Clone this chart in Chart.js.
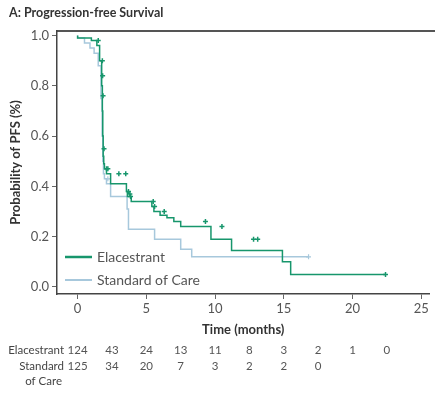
<!DOCTYPE html>
<html>
<head>
<meta charset="utf-8">
<script src="https://cdn.jsdelivr.net/npm/chart.js@4.4.1/dist/chart.umd.min.js"></script>
<style>
  html, body { margin: 0; padding: 0; background: #fff; }
</style>
</head>
<body>
<canvas id="chart-pfs" width="435" height="414"></canvas>
<script>
// Kaplan-Meier estimates (months, survival probability)
const elacTimes = [0, 1.0, 1.4, 1.6, 1.75, 1.8, 1.83, 1.86, 1.9, 1.95, 2.1, 2.4, 3.55, 3.62, 3.9, 5.4, 5.55, 6.0, 6.5, 7.0, 7.5, 9.7, 11.2, 14.9, 15.5, 18.7, 22.4];
const elacSurv = [1.0, 0.99, 0.98, 0.96, 0.90, 0.80, 0.70, 0.60, 0.52, 0.49, 0.47, 0.45, 0.41, 0.38, 0.36, 0.34, 0.32, 0.30, 0.285, 0.275, 0.26, 0.24, 0.19, 0.145, 0.10, 0.05, 0.05];

const socTimes = [0, 0.5, 0.9, 1.2, 1.5, 1.7, 1.78, 1.83, 1.88, 1.95, 2.1, 2.4, 3.6, 3.7, 5.6, 7.5, 8.3, 9.3, 16.8];
const socSurv = [1.0, 0.99, 0.97, 0.95, 0.93, 0.88, 0.75, 0.60, 0.50, 0.45, 0.43, 0.41, 0.36, 0.31, 0.23, 0.19, 0.15, 0.12, 0.12];

// censored observations
const elacCensorTimes = [1.5, 1.8, 1.82, 1.85, 1.92, 2.1, 2.2, 3.0, 3.5, 3.7, 3.8, 3.85, 5.5, 5.6, 6.3, 9.3, 10.5, 12.8, 13.1, 22.4];
const elacCensorSurv = [0.98, 0.90, 0.84, 0.76, 0.55, 0.47, 0.47, 0.45, 0.45, 0.38, 0.37, 0.36, 0.34, 0.32, 0.30, 0.26, 0.24, 0.19, 0.19, 0.05];
const socCensorTimes = [2.2, 16.8];
const socCensorSurv = [0.43, 0.12];

// axis ticks
const xTicks = [0, 5, 10, 15, 20, 25];
const yTicks = [0, 0.2, 0.4, 0.6, 0.8, 1.0];

// number at risk
const riskTimes = [0, 2.5, 5, 7.5, 10, 12.5, 15, 17.5, 20, 22.5];
const elacAtRisk = [124, 43, 24, 13, 11, 8, 3, 2, 1, 0];
const socAtRisk = [125, 34, 20, 7, 3, 2, 2, 0];

const ELAC_COLOR = '#17966c';
const SOC_COLOR = '#a7c8dc';
const FONT = 'Lato';

function toPoints(xs, ys) {
    return xs.map((t, i) => ({ x: t, y: ys[i] }));
}

const pfsExtras = {
    id: 'pfsExtras',
    afterDraw(chart) {
        const ctx = chart.ctx;
        const area = chart.chartArea;
        const xScale = chart.scales.x;
        ctx.save();

        // panel title
        ctx.fillStyle = '#333';
        ctx.font = 'bold 12.5px ' + FONT;
        ctx.textAlign = 'left';
        ctx.textBaseline = 'middle';
        ctx.fillText('A: Progression-free Survival', 9, 13);

        // top frame runs to the edge
        ctx.strokeStyle = '#555';
        ctx.lineWidth = 2;
        ctx.beginPath();
        ctx.moveTo(area.right, area.top);
        ctx.lineTo(chart.width, area.top);
        ctx.stroke();

        // legend in the lower left corner of the plot
        const entries = [chart.data.datasets[0], chart.data.datasets[1]];
        entries.forEach((ds, i) => {
            const y = area.bottom - 37 + i * 23;
            ctx.strokeStyle = ds.borderColor;
            ctx.lineWidth = i === 0 ? 2.5 : 2;
            ctx.beginPath();
            ctx.moveTo(area.left + 8, y);
            ctx.lineTo(area.left + 35, y);
            ctx.stroke();
            ctx.fillStyle = '#555';
            ctx.font = '14px ' + FONT;
            ctx.fillText(ds.label, area.left + 40, y);
        });

        // number at risk table
        ctx.font = '11.5px ' + FONT;
        ctx.fillStyle = '#444';
        ctx.textAlign = 'right';
        ctx.fillText('Elacestrant', 64, 350);
        ctx.fillText('Standard', 64, 366);
        const stdW = ctx.measureText('Standard').width;
        ctx.textAlign = 'center';
        ctx.fillText('of Care', 64 - stdW / 2 + 2, 381);

        ctx.fillStyle = '#555';
        elacAtRisk.forEach((n, i) => {
            ctx.fillText(String(n), xScale.getPixelForValue(riskTimes[i]), 350);
        });
        socAtRisk.forEach((n, i) => {
            ctx.fillText(String(n), xScale.getPixelForValue(riskTimes[i]), 366);
        });

        ctx.restore();
    }
};

const ctx1 = document.getElementById('chart-pfs').getContext('2d');

new Chart(ctx1, {
    type: 'line',
    data: {
        datasets: [
            {
                label: 'Elacestrant',
                data: toPoints(elacTimes, elacSurv),
                borderColor: ELAC_COLOR,
                borderWidth: 1.5,
                stepped: 'after',
                pointRadius: 0,
                order: 1
            },
            {
                label: 'Standard of Care',
                data: toPoints(socTimes, socSurv),
                borderColor: SOC_COLOR,
                borderWidth: 1.5,
                stepped: 'after',
                pointRadius: 0,
                order: 2
            },
            {
                label: 'Elacestrant censored',
                data: toPoints(elacCensorTimes, elacCensorSurv),
                showLine: false,
                pointStyle: 'cross',
                pointRadius: 2.5,
                borderWidth: 1.5,
                borderColor: ELAC_COLOR,
                order: 0
            },
            {
                label: 'Standard of Care censored',
                data: toPoints(socCensorTimes, socCensorSurv),
                showLine: false,
                pointStyle: 'cross',
                pointRadius: 2.5,
                borderWidth: 1.2,
                borderColor: SOC_COLOR,
                order: 2
            }
        ]
    },
    options: {
        responsive: false,
        animation: false,
        layout: {
            padding: { top: 31, right: 3, bottom: 74, left: 0 }
        },
        plugins: {
            legend: { display: false },
            title: { display: false },
            tooltip: { enabled: false }
        },
        scales: {
            x: {
                type: 'linear',
                position: 'bottom',
                min: -1.5,
                max: 25.6,
                afterBuildTicks: (scale) => {
                    scale.ticks = xTicks.map(v => ({ value: v }));
                },
                afterFit: (scale) => { scale.height = 46; },
                grid: {
                    drawOnChartArea: false,
                    tickLength: 5,
                    color: '#666'
                },
                border: { color: '#444', width: 1.5 },
                ticks: {
                    color: '#555',
                    padding: 2,
                    maxRotation: 0,
                    font: { family: FONT, size: 13 }
                },
                title: {
                    display: true,
                    text: 'Time (months)',
                    color: '#333',
                    padding: { top: 0, bottom: 2 },
                    font: { family: FONT, size: 13, weight: 'bold' }
                }
            },
            xTop: {
                type: 'linear',
                position: 'top',
                min: -1.5,
                max: 25.6,
                afterFit: (scale) => { scale.height = 0; },
                grid: { display: false, drawTicks: false },
                ticks: { display: false },
                border: { display: true, color: '#555', width: 2 }
            },
            y: {
                type: 'linear',
                min: -0.028,
                max: 1.018,
                afterBuildTicks: (scale) => {
                    scale.ticks = yTicks.map(v => ({ value: v }));
                },
                afterFit: (scale) => { scale.width = 57; },
                grid: {
                    drawOnChartArea: false,
                    tickLength: 5,
                    color: '#666'
                },
                border: { color: '#444', width: 1.5 },
                ticks: {
                    color: '#555',
                    padding: 3,
                    font: { family: FONT, size: 13 },
                    callback: (v) => Number(v).toFixed(1)
                },
                title: {
                    display: true,
                    text: 'Probability of PFS (%)',
                    color: '#333',
                    padding: { top: 8, bottom: 0 },
                    font: { family: FONT, size: 13, weight: 'bold' }
                }
            }
        }
    },
    plugins: [pfsExtras]
});
</script>
</body>
</html>
